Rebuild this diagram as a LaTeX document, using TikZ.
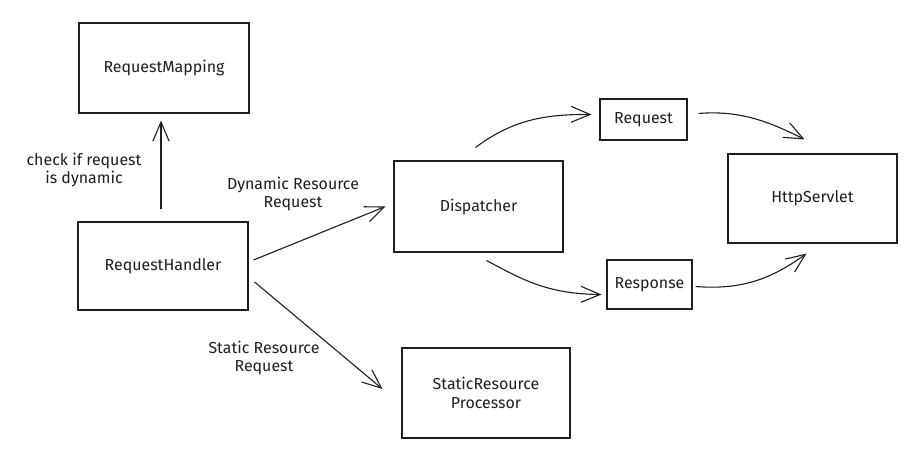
\documentclass[tikz,border=0pt]{standalone}
\usepackage{fontspec}
\setmainfont{Fira Sans}
\usetikzlibrary{arrows.meta,calc}
\definecolor{ink}{HTML}{1E1E1E}
\begin{document}
\begin{tikzpicture}[x=1bp,y=-1bp,
  box/.style={draw=ink,line width=1.1bp,inner sep=0pt,align=center,font=\fontsize{16}{19}\selectfont,text=ink},
  lbl/.style={align=center,inner sep=0pt,font=\fontsize{16}{19}\selectfont,text=ink},
  conn/.style={draw=ink,line width=1.1bp,-{Straight Barb[length=19bp,width=16bp,line width=1.1bp]}}]
\fill[white] (0,0) rectangle (916,454);
\useasboundingbox (0,0) rectangle (916,454);
\node[box,minimum width=170bp,minimum height=90bp] (rm) at (164,68) {RequestMapping};
\node[box,minimum width=170bp,minimum height=88bp] (rh) at (163,266) {RequestHandler};
\node[box,minimum width=169bp,minimum height=91bp] (disp) at (478.5,206.5) {Dispatcher};
\node[box,minimum width=87bp,minimum height=41bp] (req) at (643.5,119.5) {Request};
\node[box,minimum width=85bp,minimum height=49bp] (resp) at (649.5,284.5) {Response};
\node[box,minimum width=169bp,minimum height=89bp] (http) at (812.5,198.5) {HttpServlet};
\node[box,minimum width=168bp,minimum height=90bp] (srp) at (486,393) {StaticResource\\Processor};
\node[lbl] (l1) at (84,170) {check if request\\is dynamic};
\node[lbl] (l2) at (293,194) {Dynamic Resource\\Request};
\node[lbl] (l3) at (264,358) {Static Resource\\Request};
\draw[conn] ($(rh.north)+(-2,-12)$) -- ($(rm.south)+(-3,7)$);
\draw[conn] ($(rh.east)+(5,-6)$) -- ($(disp.west)+(-8,0)$);
\draw[conn] ($(rh.east)+(6,16)$) -- ($(srp.west)+(-19,-4)$);
\draw[conn] ($(disp.north)+(-3,-13)$) .. controls (510,122) and (540,114) .. ($(req.west)+(-8,-5)$);
\draw[conn] ($(req.east)+(11,-6)$) .. controls (740,110) and (770,122) .. ($(http.north)+(-8,-14)$);
\draw[conn] ($(disp.south)+(8,8)$) .. controls (520,278) and (545,294) .. ($(resp.west)+(-5,10)$);
\draw[conn] ($(resp.east)+(3,2)$) .. controls (740,290) and (770,280) .. ($(http.south)+(-6,10)$);
\end{tikzpicture}
\end{document}
